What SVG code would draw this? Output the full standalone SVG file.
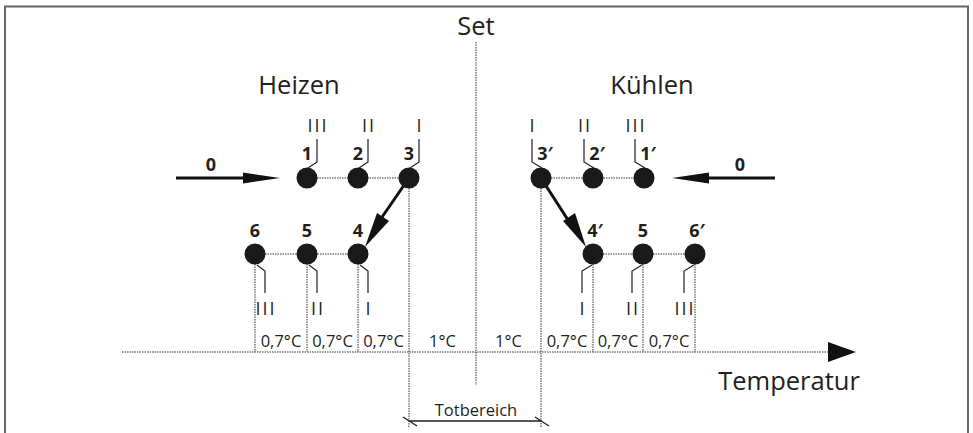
<svg xmlns="http://www.w3.org/2000/svg" width="973" height="433" viewBox="0 0 973 433">
<defs>
<style>
text{font-family:"Open Sans","Noto Sans","Liberation Sans",sans-serif;fill:#231f20}
.t{font-size:25.5px}
.n{font-size:18px;font-weight:bold;text-anchor:middle}
.r{font-size:18px;text-anchor:middle;letter-spacing:2px}
.d{font-size:16.5px;text-anchor:middle}
.dot{stroke:#333;stroke-width:1;stroke-dasharray:1.5 1;fill:none}
.c{fill:#1a1a1a}
.k{stroke:#231f20;stroke-width:1.2;fill:none}
.a{stroke:#111;stroke-width:3;fill:none}
</style>
</defs>
<rect width="973" height="433" fill="#fff"/>
<path d="M5,433 V6.5 H968 V433" fill="none" stroke="#666" stroke-width="2"/>
<g id="labels">
<text x="476" y="35" class="t" text-anchor="middle">Set</text>
<text x="299" y="94" class="t" text-anchor="middle">Heizen</text>
<text x="652" y="94" class="t" text-anchor="middle">Kühlen</text>
<text x="789" y="390" class="t" text-anchor="middle">Temperatur</text>
<text x="476" y="416" font-size="16.5" text-anchor="middle">Totbereich</text>
</g>
<g id="connectors">
<path class="dot" d="M476,42 V385 M409,178 V428 M541,178 V428 M255,254 V352 M307,254 V352 M358,254 V352 M593,254 V352 M643,254 V352 M695,254 V352"/>
<path class="dot" d="M122,352 H830 M307,178 H409 M541,178 H644 M255,254 H358 M593,254 H695"/>
<polygon points="828,342 856,352 828,362" fill="#111"/>
<path class="a" d="M176,178 H248"/>
<polygon points="243,172.5 280,178 243,183.5" fill="#111"/>
<path class="a" d="M775,178 H705"/>
<polygon points="709,172.5 672,178 709,183.5" fill="#111"/>
<path class="a" d="M409,178 L380,220"/>
<polygon points="377,213 389,221 365,247" fill="#111"/>
<path class="a" d="M541,178 L568,220"/>
<polygon points="563,221 575,213 586,247" fill="#111"/>
<path d="M410,421 H542 M403,417 L417,426 M535,417 L549,426" stroke="#231f20" stroke-width="1.3" fill="none"/>
</g>
<g id="node-1"><circle class="c" cx="307" cy="178" r="10.5"/><path class="k" d="M308,168 L317,162 V139"/><text class="n" x="307" y="160">1</text><text class="r" x="318" y="132">III</text></g>
<g id="node-2"><circle class="c" cx="358" cy="178" r="10.5"/><path class="k" d="M359,168 L368,162 V139"/><text class="n" x="358" y="160">2</text><text class="r" x="369" y="132">II</text></g>
<g id="node-3"><circle class="c" cx="409" cy="178" r="10.5"/><path class="k" d="M410,168 L419,162 V139"/><text class="n" x="409" y="160">3</text><text class="r" x="420" y="132">I</text></g>
<g id="node-3p"><circle class="c" cx="541" cy="178" r="10.5"/><path class="k" d="M532,139 V162 L542,168"/><text class="n" x="545" y="160">3′</text><text class="r" x="533" y="132">I</text></g>
<g id="node-2p"><circle class="c" cx="593" cy="178" r="10.5"/><path class="k" d="M584,139 V162 L594,168"/><text class="n" x="597" y="160">2′</text><text class="r" x="585" y="132">II</text></g>
<g id="node-1p"><circle class="c" cx="644" cy="178" r="10.5"/><path class="k" d="M635,139 V162 L645,168"/><text class="n" x="648" y="160">1′</text><text class="r" x="636" y="132">III</text></g>
<g id="node-6"><circle class="c" cx="255" cy="254" r="10.5"/><path class="k" d="M257,265 L265,271 V293"/><text class="n" x="255" y="237">6</text><text class="r" x="266" y="315">III</text></g>
<g id="node-5"><circle class="c" cx="307" cy="254" r="10.5"/><path class="k" d="M309,265 L317,271 V293"/><text class="n" x="307" y="237">5</text><text class="r" x="318" y="315">II</text></g>
<g id="node-4"><circle class="c" cx="358" cy="254" r="10.5"/><path class="k" d="M360,265 L368,271 V293"/><text class="n" x="358" y="237">4</text><text class="r" x="369" y="315">I</text></g>
<g id="node-4p"><circle class="c" cx="593" cy="254" r="10.5"/><path class="k" d="M592,265 L582,271 V293"/><text class="n" x="595" y="237">4′</text><text class="r" x="583" y="315">I</text></g>
<g id="node-5r"><circle class="c" cx="643" cy="254" r="10.5"/><path class="k" d="M642,265 L632,271 V293"/><text class="n" x="643" y="237">5</text><text class="r" x="633" y="315">II</text></g>
<g id="node-6p"><circle class="c" cx="695" cy="254" r="10.5"/><path class="k" d="M694,265 L684,271 V293"/><text class="n" x="697" y="237">6′</text><text class="r" x="685" y="315">III</text></g>
<g id="zero-arrows">
<text class="n" x="211" y="171">0</text>
<text class="n" x="740" y="171">0</text>
</g>
<g id="intervals">
<text class="d" x="281" y="347">0,7°C</text>
<text class="d" x="332.5" y="347">0,7°C</text>
<text class="d" x="383.5" y="347">0,7°C</text>
<text class="d" x="442.5" y="347">1°C</text>
<text class="d" x="508.5" y="347">1°C</text>
<text class="d" x="567" y="347">0,7°C</text>
<text class="d" x="618" y="347">0,7°C</text>
<text class="d" x="669" y="347">0,7°C</text>
</g>
</svg>
